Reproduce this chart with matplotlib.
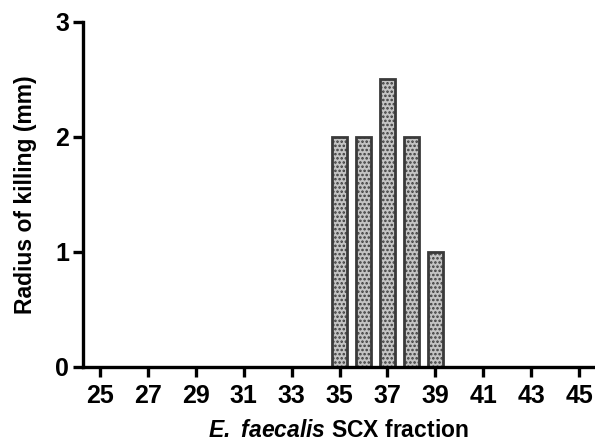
import matplotlib
matplotlib.use("Agg")
import matplotlib.pyplot as plt

# fractions that killed, radius in mm
fractions = [35, 36, 37, 38, 39]
radius_mm = [2, 2, 2.5, 2, 1]
tick_positions = list(range(25, 46, 2))
y_ticks = [0, 1, 2, 3]

plt.rcParams["font.family"] = ["Liberation Sans", "DejaVu Sans"]
plt.rcParams["font.weight"] = "bold"
plt.rcParams["mathtext.fontset"] = "custom"
plt.rcParams["mathtext.bfit"] = "Liberation Sans:italic:bold"
plt.rcParams["mathtext.rm"] = "Liberation Sans:bold"
plt.rcParams["hatch.linewidth"] = 1.2
plt.rcParams["hatch.color"] = "#808080"

fig = plt.figure(figsize=(5.95, 4.45), dpi=100)
ax = fig.add_axes([0.1395, 0.1753, 0.858, 0.7753])

ax.bar(fractions, radius_mm, width=0.62, facecolor="#c4c4c4",
       edgecolor="#3a3a3a", linewidth=2.0, hatch="....", zorder=2)

ax.set_xlim(24.29, 45.6)
ax.set_ylim(0, 3)
ax.set_xticks(tick_positions)
ax.set_xticklabels([str(t) for t in tick_positions])
ax.set_yticks(y_ticks)

for side in ("top", "right"):
    ax.spines[side].set_visible(False)
for side in ("left", "bottom"):
    ax.spines[side].set_linewidth(2.4)

ax.tick_params(axis="both", width=2.4, length=7, labelsize=18, pad=3)
ax.tick_params(axis="x", pad=5)

ax.set_ylabel("Radius of killing (mm)", fontsize=16.5, fontweight="bold")
ax.yaxis.set_label_coords(-0.09, 0.5)
ax.set_xlabel(r"$\mathbfit{E.}$ $\mathbfit{faecalis}$ SCX fraction", fontsize=16.5, fontweight="bold")
ax.xaxis.set_label_coords(0.5, -0.152)

fig.savefig("out.png", dpi=100)
